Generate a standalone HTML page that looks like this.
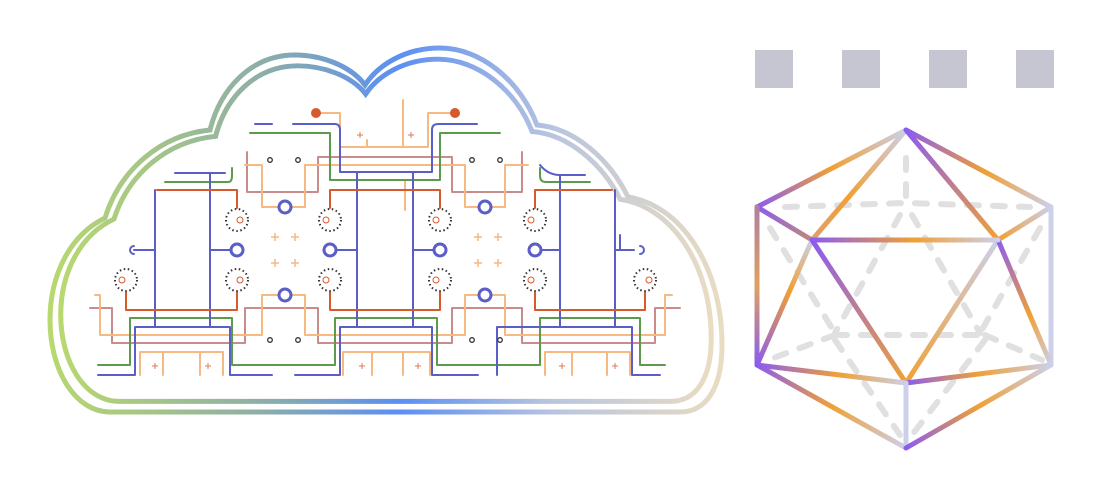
<!DOCTYPE html>
<html><head><meta charset="utf-8"><style>
html,body{margin:0;padding:0;background:#fff;}
svg{display:block;}
</style></head><body>
<svg width="1105" height="500" viewBox="0 0 1105 500" xmlns="http://www.w3.org/2000/svg">
<defs>
<linearGradient id="cg" gradientUnits="userSpaceOnUse" x1="50" y1="0" x2="722" y2="0">
<stop offset="0" stop-color="#b8d870"/><stop offset="0.3" stop-color="#8fb0a4"/><stop offset="0.52" stop-color="#5b8ff2"/><stop offset="0.75" stop-color="#b9c4df"/><stop offset="1" stop-color="#e8dcc2"/>
</linearGradient>
<path id="cloud" d="M110 412 H680 C705 412 722 390 722 345 C722 265 680 205 628 197 C610 160 575 128 537 125 C520 80 480 48 440 48 C405 48 378 65 365 85 C350 65 320 55 295 55 C250 55 220 90 210 130 C160 135 120 170 105 218 C70 235 50 275 50 320 C50 370 75 412 110 412 Z"/>
</defs>
<use href="#cloud" fill="none" stroke="url(#cg)" stroke-width="5"/>
<g transform="translate(385 235) scale(0.968 0.94) translate(-385 -235)">
<use href="#cloud" fill="none" stroke="url(#cg)" stroke-width="5.2"/>
</g>

<g fill="none" stroke-width="2" stroke-linejoin="round" stroke-linecap="round">
<!-- pink -->
<g stroke="#c98c8c">
<path d="M247 152 V192 H318 V157 H452 V192 H522 V152"/>
<path d="M90 308 H112 V343 H245 V308 H318 V343 H452 V308 H522 V343 H655 V308 H680"/>
</g>
<!-- orange -->
<g stroke="#f6b982">
<path d="M245 165 H262 V207 H279 M291 207 H305 V165 H465 V207 H479 M491 207 H505 V165 H528"/>
<path d="M95 295 H100 V335 H262 V295 H279 M291 295 H305 V335 H465 V295 H479 M491 295 H505 V335 H665 V295 H672"/>
<path d="M316 113 H340 V147 H428 V113 H455"/>
<path d="M403 100 V147 M367 140 V147"/>
<path d="M140 375 V352 H223 V375 M163 352 V375 M200 352 V375"/>
<path d="M343 375 V352 H430 V375 M372 352 V375 M403 352 V375"/>
<path d="M545 375 V352 H630 V375 M572 352 V375 M607 352 V375"/>
<path d="M405 180 V210"/>
</g>
<!-- green -->
<g stroke="#5d9b4c">
<path d="M250 133 H330 V180 H440 V133 H500"/>
<path d="M165 182 H228 Q232 182 232 176 V168"/>
<path d="M540 168 V176 Q540 182 546 182 H590"/>
<path d="M98 365 H130 V318 H232 V365 H335 V318 H437 V365 H540 V318 H640 V365 H665"/>
</g>
<!-- blue -->
<g stroke="#5a5ec6">
<path d="M255 124 H272 M293 124 H335 Q340 124 340 130 V172 H432 V130 Q432 124 438 124 H477"/>
<path d="M175 173 H225"/>
<path d="M540 165 Q548 175 560 175 H585"/>
<path d="M155 190 V327 M210 173 V327 M357 172 V327 M413 172 V327 M560 175 V327 M615 190 V327"/>
<path d="M98 375 H135 V327 H230 V375 H272 M295 375 H340 V327 H432 V375 H478 M497 375 V327 H632 V375 H660"/>
<path d="M134 250 H155 M210 250 H231 M336 250 H357 M413 250 H434 M541 250 H560 M615 250 H634 M620 235 V250"/>
<path d="M134 246 A4 4 0 1 0 134 254"/>
<path d="M640 246 A4 4 0 1 1 640 254"/>
</g>
<!-- red -->
<g stroke="#d65a2e">
<path d="M157 190 H237 V208"/>
<path d="M126 292 V310 H237 V292"/>
<path d="M330 208 V190 H440 V208"/>
<path d="M330 292 V310 H440 V292"/>
<path d="M535 208 V190 H612"/>
<path d="M535 292 V310 H645 V292"/>
</g>
</g>
<g fill="#d65a2e"><circle cx="316" cy="113" r="5"/><circle cx="455" cy="113" r="5"/></g>
<!-- rings -->
<g fill="#fff" stroke="#5a5ec6" stroke-width="3">
<circle cx="285" cy="207" r="6"/><circle cx="285" cy="295" r="6"/><circle cx="485" cy="207" r="6"/><circle cx="485" cy="295" r="6"/>
<circle cx="237" cy="250" r="6"/><circle cx="330" cy="250" r="6"/><circle cx="440" cy="250" r="6"/><circle cx="535" cy="250" r="6"/>
</g>
<!-- dotted circles -->
<g fill="none" stroke="#333" stroke-width="2" stroke-dasharray="1.5 2.6">
<circle cx="126" cy="280" r="11"/><circle cx="237" cy="220" r="11"/><circle cx="237" cy="280" r="11"/>
<circle cx="330" cy="220" r="11"/><circle cx="330" cy="280" r="11"/><circle cx="440" cy="220" r="11"/><circle cx="440" cy="280" r="11"/>
<circle cx="535" cy="220" r="11"/><circle cx="535" cy="280" r="11"/><circle cx="645" cy="280" r="11"/>
</g>
<g fill="none" stroke="#d65a2e" stroke-width="1">
<circle cx="122" cy="280" r="3"/><circle cx="240" cy="220" r="3"/><circle cx="240" cy="280" r="3"/>
<circle cx="326" cy="220" r="3"/><circle cx="326" cy="280" r="3"/><circle cx="436" cy="220" r="3"/><circle cx="436" cy="280" r="3"/>
<circle cx="531" cy="220" r="3"/><circle cx="531" cy="280" r="3"/><circle cx="649" cy="280" r="3"/>
</g>
<g fill="#fff" stroke="#333" stroke-width="1.3">
<circle cx="270" cy="160" r="2.3"/><circle cx="298" cy="160" r="2.3"/><circle cx="270" cy="340" r="2.3"/><circle cx="298" cy="340" r="2.3"/>
<circle cx="472" cy="160" r="2.3"/><circle cx="500" cy="160" r="2.3"/><circle cx="472" cy="340" r="2.3"/><circle cx="500" cy="340" r="2.3"/>
</g>
<!-- plus signs -->
<g stroke="#f6b982" stroke-width="1.5">
<path d="M271 237h8M275 233v8 M291 237h8M295 233v8 M271 263h8M275 259v8 M291 263h8M295 259v8"/>
<path d="M474 237h8M478 233v8 M494 237h8M498 233v8 M474 263h8M478 259v8 M494 263h8M498 259v8"/>
</g>
<!-- sparkles -->
<g stroke="#e07a50" stroke-width="1">
<path d="M357 135h6M360 132v6 M408 135h6M411 132v6"/>
<path d="M152 366h6M155 363v6 M205 366h6M208 363v6"/>
<path d="M359 366h6M362 363v6 M415 366h6M418 363v6"/>
<path d="M559 366h6M562 363v6 M612 366h6M615 363v6"/>
</g>

<!-- squares -->
<g fill="#c6c6d3">
<rect x="755" y="50" width="38" height="38"/><rect x="842" y="50" width="38" height="38"/>
<rect x="929" y="50" width="38" height="38"/><rect x="1016" y="50" width="38" height="38"/>
</g>

<!-- icosahedron hidden edges -->
<g stroke="#e0e0e0" stroke-width="6" stroke-linecap="round" stroke-dasharray="12 14" fill="none">
<path d="M906 158 V200"/>
<path d="M785 207 L906 203 L1030 207"/>
<path d="M900 215 L835 333"/>
<path d="M912 215 L980 333"/>
<path d="M770 228 L835 333"/>
<path d="M1040 228 L980 333"/>
<path d="M835 335 H985"/>
<path d="M835 335 L768 360"/>
<path d="M985 335 L1042 360"/>
<path d="M835 340 L900 435"/>
<path d="M985 340 L912 435"/>
</g>

<!-- icosahedron visible edges -->
<defs>
<linearGradient id="e1" gradientUnits="userSpaceOnUse" x1="757" y1="207" x2="906" y2="130"><stop offset="0" stop-color="#8b5cf0"/><stop offset="0.5" stop-color="#f0a035"/><stop offset="1" stop-color="#ccd0ea"/></linearGradient>
<linearGradient id="e2" gradientUnits="userSpaceOnUse" x1="906" y1="130" x2="1051" y2="207"><stop offset="0" stop-color="#8b5cf0"/><stop offset="0.55" stop-color="#f0a035"/><stop offset="1" stop-color="#ccd0ea"/></linearGradient>
<linearGradient id="e3" gradientUnits="userSpaceOnUse" x1="906" y1="130" x2="812" y2="240"><stop offset="0" stop-color="#ccd0ea"/><stop offset="0.6" stop-color="#f0a035"/><stop offset="1" stop-color="#e0a070"/></linearGradient>
<linearGradient id="e4" gradientUnits="userSpaceOnUse" x1="906" y1="130" x2="998" y2="240"><stop offset="0" stop-color="#8b5cf0"/><stop offset="1" stop-color="#f0a035"/></linearGradient>
<linearGradient id="e5" gradientUnits="userSpaceOnUse" x1="757" y1="207" x2="812" y2="240"><stop offset="0" stop-color="#8b5cf0"/><stop offset="1" stop-color="#c08a7a"/></linearGradient>
<linearGradient id="e6" gradientUnits="userSpaceOnUse" x1="998" y1="240" x2="1051" y2="207"><stop offset="0" stop-color="#f0a035"/><stop offset="1" stop-color="#ccd0ea"/></linearGradient>
<linearGradient id="e7" gradientUnits="userSpaceOnUse" x1="812" y1="240" x2="998" y2="240"><stop offset="0" stop-color="#8b5cf0"/><stop offset="0.55" stop-color="#f0a035"/><stop offset="1" stop-color="#ccd0ea"/></linearGradient>
<linearGradient id="e8" gradientUnits="userSpaceOnUse" x1="757" y1="207" x2="757" y2="365"><stop offset="0" stop-color="#b080a0"/><stop offset="0.5" stop-color="#e0a060"/><stop offset="1" stop-color="#8b5cf0"/></linearGradient>
<linearGradient id="e10" gradientUnits="userSpaceOnUse" x1="812" y1="240" x2="757" y2="365"><stop offset="0" stop-color="#ccd0ea"/><stop offset="0.4" stop-color="#f0a035"/><stop offset="1" stop-color="#8b5cf0"/></linearGradient>
<linearGradient id="e11" gradientUnits="userSpaceOnUse" x1="812" y1="240" x2="906" y2="383"><stop offset="0" stop-color="#8b5cf0"/><stop offset="1" stop-color="#f0a035"/></linearGradient>
<linearGradient id="e12" gradientUnits="userSpaceOnUse" x1="998" y1="240" x2="906" y2="383"><stop offset="0" stop-color="#ccd0ea"/><stop offset="1" stop-color="#f0a035"/></linearGradient>
<linearGradient id="e13" gradientUnits="userSpaceOnUse" x1="998" y1="240" x2="1051" y2="365"><stop offset="0" stop-color="#8b5cf0"/><stop offset="0.6" stop-color="#f0a035"/><stop offset="1" stop-color="#ccd0ea"/></linearGradient>
<linearGradient id="e14" gradientUnits="userSpaceOnUse" x1="757" y1="365" x2="906" y2="383"><stop offset="0" stop-color="#8b5cf0"/><stop offset="0.55" stop-color="#f0a035"/><stop offset="1" stop-color="#ccd0ea"/></linearGradient>
<linearGradient id="e15" gradientUnits="userSpaceOnUse" x1="906" y1="383" x2="1051" y2="365"><stop offset="0" stop-color="#8b5cf0"/><stop offset="0.5" stop-color="#f0a035"/><stop offset="1" stop-color="#ccd0ea"/></linearGradient>
<linearGradient id="e16" gradientUnits="userSpaceOnUse" x1="757" y1="365" x2="906" y2="448"><stop offset="0" stop-color="#8b5cf0"/><stop offset="0.5" stop-color="#f0a035"/><stop offset="1" stop-color="#ccd0ea"/></linearGradient>
<linearGradient id="e18" gradientUnits="userSpaceOnUse" x1="906" y1="448" x2="1051" y2="365"><stop offset="0" stop-color="#8b5cf0"/><stop offset="0.5" stop-color="#f0a035"/><stop offset="1" stop-color="#ccd0ea"/></linearGradient>
</defs>
<g stroke-width="5" stroke-linecap="round" fill="none">
<line x1="757" y1="207" x2="906" y2="130" stroke="url(#e1)"/>
<line x1="906" y1="130" x2="1051" y2="207" stroke="url(#e2)"/>
<line x1="906" y1="130" x2="812" y2="240" stroke="url(#e3)"/>
<line x1="906" y1="130" x2="998" y2="240" stroke="url(#e4)"/>
<line x1="757" y1="207" x2="812" y2="240" stroke="url(#e5)"/>
<line x1="998" y1="240" x2="1051" y2="207" stroke="url(#e6)"/>
<line x1="757" y1="207" x2="757" y2="365" stroke="url(#e8)"/>
<line x1="1051" y1="207" x2="1051" y2="365" stroke="#ccd0ea"/>
<line x1="812" y1="240" x2="757" y2="365" stroke="url(#e10)"/>
<line x1="812" y1="240" x2="906" y2="383" stroke="url(#e11)"/>
<line x1="998" y1="240" x2="906" y2="383" stroke="url(#e12)"/>
<line x1="998" y1="240" x2="1051" y2="365" stroke="url(#e13)"/>
<line x1="812" y1="240" x2="998" y2="240" stroke="url(#e7)"/>
<line x1="757" y1="365" x2="906" y2="383" stroke="url(#e14)"/>
<line x1="906" y1="383" x2="1051" y2="365" stroke="url(#e15)"/>
<line x1="757" y1="365" x2="906" y2="448" stroke="url(#e16)"/>
<line x1="906" y1="383" x2="906" y2="448" stroke="#ccd0ea"/>
<line x1="906" y1="448" x2="1051" y2="365" stroke="url(#e18)"/>
</g>
</svg>
</body></html>
